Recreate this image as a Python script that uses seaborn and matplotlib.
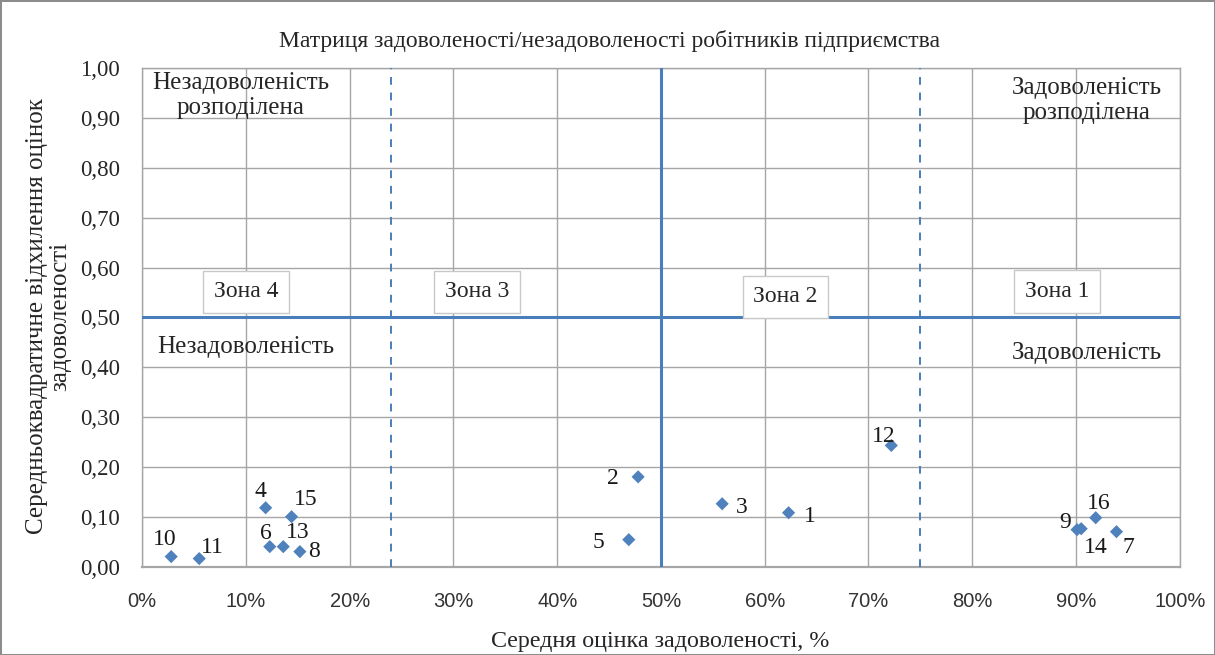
import pandas as pd
import seaborn as sns
import matplotlib.pyplot as plt
from matplotlib.ticker import FuncFormatter, MultipleLocator

# Дані: номер робітника, середня оцінка (%), середньоквадратичне відхилення
labels = ['1', '2', '3', '4', '5', '6', '7', '8', '9', '10', '11', '12', '13', '14', '15', '16']
mean_score = [62.3, 47.8, 55.9, 11.9, 46.9, 12.3, 93.9, 15.2, 90.1, 2.8, 5.5, 72.2, 13.6, 90.5, 14.4, 91.9]
std_dev = [0.108, 0.180, 0.126, 0.118, 0.054, 0.040, 0.070, 0.030, 0.074, 0.020, 0.016, 0.243, 0.040, 0.076, 0.100, 0.098]

zone_names = ['Зона 1', 'Зона 2', 'Зона 3', 'Зона 4']

df = pd.DataFrame({'label': labels, 'x': mean_score, 'y': std_dev})

# Зсуви підписів точок (у пікселях)
offsets = {
    '1': (21, -4), '2': (-25, -2), '3': (20, -4), '4': (-5, 16), '5': (-30, -3),
    '6': (-4, 13), '7': (12, -16), '8': (14, 0), '9': (-12, 7), '10': (-6, 17),
    '11': (13, 11), '12': (-8, 9), '13': (14, 14), '14': (15, -19), '15': (14, 17),
    '16': (3, 14),
}

sns.set_style('white')
plt.rcParams['font.family'] = ['Liberation Serif', 'DejaVu Serif']

fig = plt.figure(figsize=(12.15, 6.55), dpi=100, edgecolor='#8c8c8c', linewidth=2)
ax = fig.add_axes([0.117, 0.135, 0.854, 0.761])

blue = '#4a7ebb'
grid_c = '#a6a6a6'

sns.scatterplot(data=df, x='x', y='y', marker='D', s=45, color='#4f81bd',
                edgecolor='none', ax=ax, zorder=5)

for lab, xv, yv in zip(labels, mean_score, std_dev):
    dx, dy = offsets[lab]
    ax.annotate(lab, (xv, yv), xytext=(dx, dy), textcoords='offset pixels',
                ha='center', va='center', fontsize=17, color='#1a1a1a', zorder=6)

ax.set_xlim(0, 100)
ax.set_ylim(0, 1)
ax.set_xlabel('')
ax.set_ylabel('')
ax.xaxis.set_major_locator(MultipleLocator(10))
ax.yaxis.set_major_locator(MultipleLocator(0.1))
ax.xaxis.set_major_formatter(FuncFormatter(lambda v, p: f'{v:.0f}%'))
ax.yaxis.set_major_formatter(FuncFormatter(lambda v, p: f'{v:.2f}'.replace('.', ',')))
ax.tick_params(axis='y', labelsize=16.5, length=0, pad=16)
ax.tick_params(axis='x', labelsize=14.5, length=0, pad=18)
for t in ax.get_xticklabels():
    t.set_fontfamily(['Liberation Sans', 'DejaVu Sans'])
    t.set_color('#333333')
ax.grid(True, color=grid_c, linewidth=1)
for s in ax.spines.values():
    s.set_color(grid_c)
    s.set_linewidth(1)
ax.spines['bottom'].set_linewidth(1.6)

# Межі зон
ax.axvline(50, color=blue, linewidth=2.2, zorder=3)
ax.axhline(0.5, color=blue, linewidth=2.2, zorder=3)
ax.axvline(24, color=blue, linewidth=1.4, linestyle=(0, (4, 4)), zorder=3)
ax.axvline(75, color=blue, linewidth=1.4, linestyle=(0, (4, 4)), zorder=3)

box = dict(boxstyle='square,pad=0.45', facecolor='white', edgecolor='#c8c8c8', linewidth=1)
zone_pos = [(88.2, 0.552), (62.0, 0.541), (32.3, 0.551), (10.0, 0.551)]
for name, (zx, zy) in zip(zone_names, zone_pos):
    ax.text(zx, zy, name, ha='center', va='center', fontsize=17, bbox=box, zorder=4)

ax.text(9.5, 0.945, 'Незадоволеність\nрозподілена', ha='center', va='center',
        fontsize=18, linespacing=1.15, zorder=4)
ax.text(91.0, 0.935, 'Задоволеність\nрозподілена', ha='center', va='center',
        fontsize=18, linespacing=1.15, zorder=4)
ax.text(10.0, 0.441, 'Незадоволеність', ha='center', va='center', fontsize=18, zorder=4)
ax.text(91.0, 0.429, 'Задоволеність', ha='center', va='center', fontsize=18, zorder=4)

fig.text(0.543, 0.020, 'Середня оцінка задоволеності, %', ha='center', va='center',
         fontsize=17.3)
fig.text(0.040, 0.517, 'Середньоквадратичне відхилення оцінок\nзадоволеності',
         rotation=90, ha='center', va='center', fontsize=18, linespacing=1.1)
fig.text(0.502, 0.938, 'Матриця задоволеності/незадоволеності робітників підприємства',
         ha='center', va='center', fontsize=17)

fig.savefig('out.png', dpi=100, edgecolor=fig.get_edgecolor())
